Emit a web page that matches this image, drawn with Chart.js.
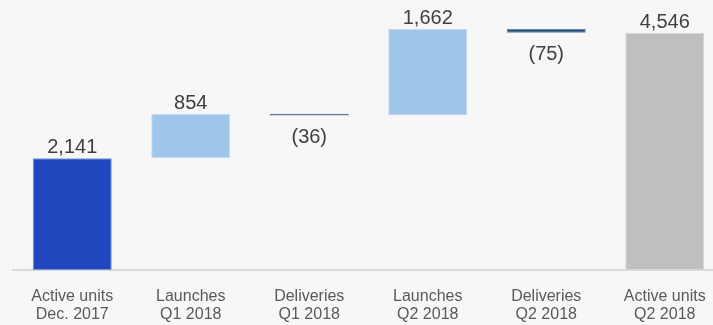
<!DOCTYPE html>
<html>
<head>
<meta charset="utf-8">
<script src="https://cdn.jsdelivr.net/npm/chart.js@4/dist/chart.umd.min.js"></script>
<style>
  html, body { margin: 0; padding: 0; background: #f7f7f7; overflow: hidden; width: 713px; height: 325px; }
  #wrap { position: absolute; left: 0; top: 0; width: 725px; height: 325px; }
</style>
</head>
<body>
<div id="wrap"><canvas id="c"></canvas></div>
<script>
// Active units walk: opening total, quarterly changes, closing total
const categories = [
  ['Active units', 'Dec. 2017'],
  ['Launches', 'Q1 2018'],
  ['Deliveries', 'Q1 2018'],
  ['Launches', 'Q2 2018'],
  ['Deliveries', 'Q2 2018'],
  ['Active units', 'Q2 2018']
];
const values = [2141, 854, -36, 1662, -75, 4546];
const kinds = ['total', 'change', 'change', 'change', 'change', 'total'];

const fills   = { total0: '#1f46bd', up: '#9fc5e8', down: '#1f4e79', total1: '#bfbfbf' };
const borders = { total0: '#7d92d8', up: '#c4dcf1', down: '#5b7ca3', total1: '#d6d6d6' };

// floating [start, end] ranges for each step of the waterfall
const ranges = [];
let running = 0;
values.forEach((v, i) => {
  if (kinds[i] === 'total') { ranges.push([0, v]); running = v; }
  else { ranges.push([running, running + v]); running += v; }
});

const styleKey = values.map((v, i) =>
  kinds[i] === 'total' ? (i === 0 ? 'total0' : 'total1') : (v >= 0 ? 'up' : 'down'));

function fmt(v) {
  const s = Math.abs(v).toLocaleString('en-US');
  return v < 0 ? '(' + s + ')' : s;
}

const valueLabels = {
  id: 'valueLabels',
  afterDatasetsDraw(chart) {
    const ctx = chart.ctx;
    const meta = chart.getDatasetMeta(0);
    ctx.save();
    ctx.font = '20px "Liberation Sans", Arial, sans-serif';
    ctx.fillStyle = '#404040';
    ctx.textAlign = 'center';
    ctx.textBaseline = 'alphabetic';
    meta.data.forEach((bar, i) => {
      const v = values[i];
      const top = Math.min(bar.y, bar.base);
      const bottom = Math.max(bar.y, bar.base);
      if (v >= 0) ctx.fillText(fmt(v), bar.x, top - 5);
      else ctx.fillText(fmt(v), bar.x, bottom + 27);
    });
    ctx.restore();
  }
};

new Chart(document.getElementById('c'), {
  type: 'bar',
  data: {
    labels: categories,
    datasets: [{
      data: ranges,
      backgroundColor: styleKey.map(k => fills[k]),
      borderColor: styleKey.map(k => borders[k]),
      borderWidth: 1,
      borderSkipped: false,
      barPercentage: 0.667,
      categoryPercentage: 1
    }]
  },
  options: {
    responsive: true,
    maintainAspectRatio: false,
    animation: false,
    layout: { padding: { left: 13, right: 1, top: 9, bottom: 0 } },
    plugins: { legend: { display: false }, tooltip: { enabled: false } },
    scales: {
      x: {
        grid: { display: false, drawTicks: false },
        border: { display: true, color: '#d9d9d9', width: 2 },
        ticks: {
          color: '#595959',
          padding: 18,
          maxRotation: 0,
          autoSkip: false,
          font: { family: '"Liberation Sans", Arial, sans-serif', size: 16, lineHeight: 1.12 }
        },
        afterFit(scale) { scale.height = 55; }
      },
      y: {
        display: false,
        min: 0,
        max: 5000
      }
    }
  },
  plugins: [valueLabels]
});
</script>
</body>
</html>
